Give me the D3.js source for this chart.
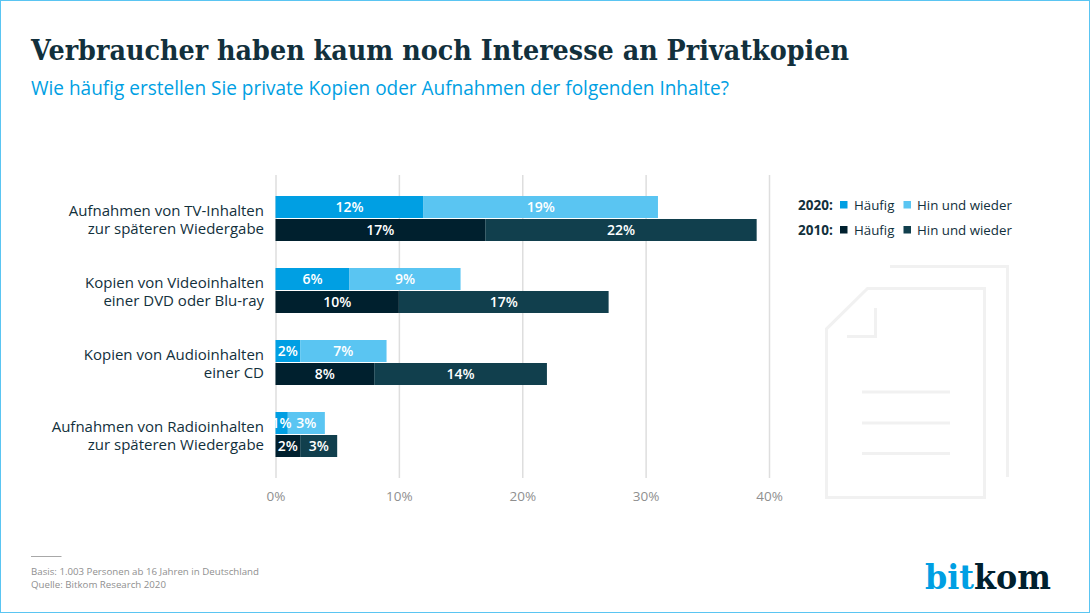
<!DOCTYPE html>
<html>
<head>
<meta charset="utf-8">
<script src="https://cdnjs.cloudflare.com/ajax/libs/d3/7.8.5/d3.min.js"></script>
<style>
html, body { margin: 0; padding: 0; background: #fff; }
svg { display: block; }
text { font-family: "Open Sans", "Noto Sans", sans-serif; }
</style>
</head>
<body>
<svg id="chart"></svg>
<script>
var categories = [
    ["Aufnahmen von TV-Inhalten", "zur späteren Wiedergabe"],
    ["Kopien von Videoinhalten", "einer DVD oder Blu-ray"],
    ["Kopien von Audioinhalten", "einer CD"],
    ["Aufnahmen von Radioinhalten", "zur späteren Wiedergabe"]
];
var haeufig2020 = [12, 6, 2, 1],
    hinUndWieder2020 = [19, 9, 7, 3],
    haeufig2010 = [17, 10, 8, 2],
    hinUndWieder2010 = [22, 17, 14, 3];
var xTicks = [0, 10, 20, 30, 40];

var width = 1090,
    height = 613;

var blue = "#009fe3",
    lightBlue = "#5ac5f2",
    dark = "#00202e",
    darkTeal = "#113f4d",
    textDark = "#12303c",
    grey = "#8f8f8f",
    gridGrey = "#dedede",
    iconGrey = "#f1f1f1";

var svg = d3.select("#chart")
    .attr("width", width)
    .attr("height", height);

svg.append("rect")
    .attr("x", 0.5).attr("y", 0.5)
    .attr("width", width - 1).attr("height", height - 1)
    .attr("fill", "#fff")
    .attr("stroke", lightBlue);

svg.append("text")
    .attr("x", 31).attr("y", 60)
    .attr("textLength", 818)
    .attr("lengthAdjust", "spacingAndGlyphs")
    .style("font-family", "'DejaVu Serif', serif")
    .style("font-weight", 700)
    .style("font-size", "28.5px")
    .attr("fill", textDark)
    .text("Verbraucher haben kaum noch Interesse an Privatkopien");

svg.append("text")
    .attr("x", 31).attr("y", 95)
    .attr("textLength", 698)
    .attr("lengthAdjust", "spacingAndGlyphs")
    .style("font-size", "19.5px")
    .attr("fill", blue)
    .text("Wie häufig erstellen Sie private Kopien oder Aufnahmen der folgenden Inhalte?");

// background document icon
var icon = svg.append("g")
    .attr("fill", "none")
    .attr("stroke", iconGrey)
    .attr("stroke-width", 3);
icon.append("path").attr("d", "M890,266.5H1007.5V477");
icon.append("path").attr("d", "M867.5,288.5H984.5V497.5H826.5V329Z");
icon.append("path").attr("d", "M875.5,308V336.5H847");
[392, 423, 453.5].forEach(function(y) {
    icon.append("line").attr("x1", 862).attr("x2", 950).attr("y1", y).attr("y2", y);
});

var x = d3.scaleLinear().domain([0, 40]).range([275.5, 769]);

var y0 = d3.scaleBand()
    .domain(d3.range(categories.length))
    .range([178, 475])
    .paddingInner(0.375)
    .paddingOuter(0.25);

var axis = d3.axisBottom(x)
    .tickValues(xTicks)
    .tickFormat(function(d) { return d + "%"; })
    .tickSize(-303)
    .tickPadding(13);

var axisG = svg.append("g")
    .attr("transform", "translate(0,478)")
    .call(axis);
axisG.select(".domain").remove();
axisG.selectAll("line").attr("stroke", gridGrey).attr("stroke-width", 1.5);
axisG.selectAll("text")
    .attr("fill", grey)
    .style("font-size", "13.5px");

var rows = [
    { first: haeufig2020, second: hinUndWieder2020, c1: blue, c2: lightBlue, off: 0 },
    { first: haeufig2010, second: hinUndWieder2010, c1: dark, c2: darkTeal, off: 1 }
];
var barH = 22;

rows.forEach(function(r) {
    var g = svg.append("g");
    categories.forEach(function(c, i) {
        var top = y0(i) + r.off * (barH + 1);
        var a = r.first[i], b = r.second[i];
        g.append("rect")
            .attr("x", x(0)).attr("y", top)
            .attr("width", x(a) - x(0)).attr("height", barH)
            .attr("fill", r.c1);
        g.append("rect")
            .attr("x", x(a)).attr("y", top)
            .attr("width", x(a + b) - x(a)).attr("height", barH)
            .attr("fill", r.c2);
        [[0, a], [a, b]].forEach(function(p) {
            g.append("text")
                .attr("x", x(p[0] + p[1] / 2))
                .attr("y", top + barH / 2 + 5)
                .attr("text-anchor", "middle")
                .attr("fill", "#fff")
                .style("font-size", "14px")
                .style("font-weight", 600)
                .text(p[1] + "%");
        });
    });
});

categories.forEach(function(c, i) {
    c.forEach(function(line, k) {
        svg.append("text")
            .attr("x", 264)
            .attr("y", y0(i) + barH + 1 + (k === 0 ? -3.5 : 14.5))
            .attr("text-anchor", "end")
            .attr("fill", textDark)
            .style("font-size", "15px")
            .style("font-weight", 500)
            .text(line);
    });
});

// legend
var legendRows = [
    { year: "2020:", y: 210, c1: blue, c2: lightBlue },
    { year: "2010:", y: 235, c1: dark, c2: darkTeal }
];
legendRows.forEach(function(l) {
    svg.append("text").attr("x", 798).attr("y", l.y)
        .attr("fill", textDark).style("font-size", "13.5px").style("font-weight", 700)
        .text(l.year);
    svg.append("rect").attr("x", 840).attr("y", l.y - 9).attr("width", 7.5).attr("height", 7.5).attr("fill", l.c1);
    svg.append("text").attr("x", 854).attr("y", l.y)
        .attr("fill", textDark).style("font-size", "13.3px").text("Häufig");
    svg.append("rect").attr("x", 903.5).attr("y", l.y - 9).attr("width", 7.5).attr("height", 7.5).attr("fill", l.c2);
    svg.append("text").attr("x", 917).attr("y", l.y)
        .attr("fill", textDark).style("font-size", "13.3px").text("Hin und wieder");
});

// footer
svg.append("line")
    .attr("x1", 31).attr("x2", 61.5).attr("y1", 556.5).attr("y2", 556.5)
    .attr("stroke", "#a8a8a8");
svg.append("text").attr("x", 31).attr("y", 575)
    .attr("fill", grey).style("font-size", "9.7px")
    .text("Basis: 1.003 Personen ab 16 Jahren in Deutschland");
svg.append("text").attr("x", 31).attr("y", 588)
    .attr("fill", grey).style("font-size", "9.7px")
    .text("Quelle: Bitkom Research 2020");

// logo
var logo = svg.append("text")
    .attr("x", 925).attr("y", 589)
    .style("font-family", "'DejaVu Serif', serif")
    .style("font-weight", 700)
    .style("font-size", "34px")
    .attr("textLength", 126)
    .attr("lengthAdjust", "spacingAndGlyphs");
logo.append("tspan").attr("fill", blue).text("bit");
logo.append("tspan").attr("fill", dark).text("kom");
</script>
</body>
</html>
